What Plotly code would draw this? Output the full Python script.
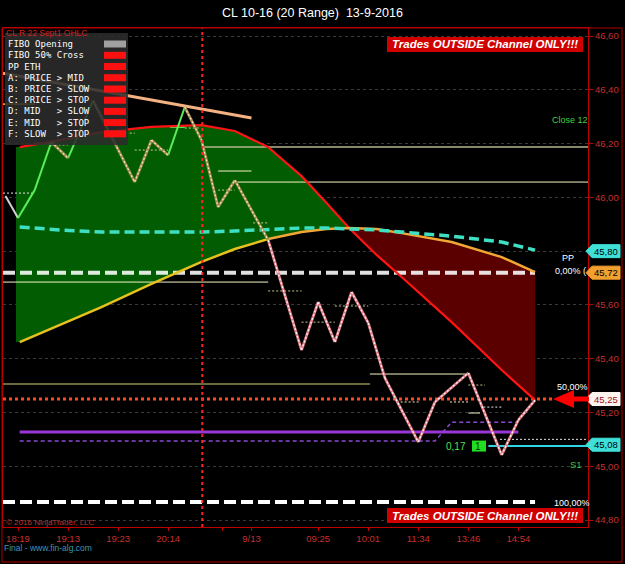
import plotly.graph_objects as go

# ---------------- data ----------------
title_text = "CL 10-16 (20 Range)  13-9-2016"
x_tick_bars = [2, 8, 14, 20, 26.5, 30, 38, 44, 50, 56, 62]
x_tick_labels = ["18:19", "19:13", "19:23", "20:14", "", "9/13", "09:25", "10:01", "11:34", "13:46", "14:54"]
y_tick_vals = [44.8, 45.0, 45.2, 45.4, 45.6, 45.8, 46.0, 46.2, 46.4, 46.6]
y_tick_labels = ["44,80", "45,00", "45,20", "45,40", "45,60", "45,80", "46,00", "46,20", "46,40", "46,60"]

# price line (range bar closes)
price_bars = [0.5, 2, 4, 6, 8, 11, 16, 18, 20, 22, 24, 26, 28, 32, 36, 38, 40, 42, 44, 46, 50, 52, 56, 60, 62, 64]
price_vals = [46.005, 45.923, 46.027, 46.206, 46.146, 46.36, 46.057, 46.213, 46.157, 46.336, 46.213, 45.964,
              46.064, 45.841, 45.432, 45.611, 45.462, 45.648, 45.533, 45.328, 45.090, 45.239, 45.347, 45.042,
              45.172, 45.246]
seg_state = ['w', 'g', 'g', 't', 'g', 't', 't', 't', 'g', 't', 't', 't', 't',
             'p', 'p', 'p', 'p', 'p', 'p', 'p', 'p', 'p', 'p', 'p', 'p']

# channel curves
curve_bars = [2.2, 7, 12, 18, 24, 28, 32, 36, 39, 41.7, 45, 48, 54, 60, 64]
fast_vals = [46.187, 46.213, 46.243, 46.262, 46.269, 46.247, 46.187, 46.079, 45.979, 45.886, 45.786, 45.704,
             45.536, 45.358, 45.246]
slow_vals = [45.462, 45.525, 45.592, 45.678, 45.760, 45.808, 45.845, 45.871, 45.882, 45.886, 45.882, 45.867,
             45.834, 45.778, 45.722]
stop_vals = [45.890, 45.879, 45.871, 45.871, 45.871, 45.875, 45.882, 45.886, 45.886, 45.882, 45.879, 45.871,
             45.856, 45.834, 45.804]
fill_left_bar = 1.76
cross_index = 9
slow_color_split = 6

# trend line (bar, price)
trend_bars = [0.2, 30.0]
trend_vals = [46.462, 46.295]

# fibo / pivot levels
pp_level = 45.72
fib50_level = 45.25
fib100_level = 44.867
level_end_bar = 64.0
fib50_end_bar = 66.4
session_break_bar = 24.1

# purple bands
purple_solid = (2.2, 62.0, 45.127)
purple_dash_bars = [2.2, 52.0, 54.0, 61.9]
purple_dash_vals = [45.094, 45.094, 45.164, 45.164]

# S1 / entry
s1_line = (58.4, 70.35, 45.075)
entry_bar, entry_price, entry_text, entry_count = 57.2, 45.075, "0,17", "1"

# short level segments: x0, x1, price, kind
lvl_x0 = [0.2, 5.9, 13.0, 16.0, 22.0, 26.0, 26.0, 30.2, 32.0, 36.0, 40.0, 47.4, 53.8, 56.0, 56.0, 57.8, 49.8,
          24.2, 28.3, 0.2, 0.2, 44.2, 59.8, 0.2, 4.0, 20.2]
lvl_x1 = [3.7, 8.0, 16.0, 20.0, 23.8, 30.0, 28.0, 32.0, 36.0, 40.0, 44.0, 50.2, 56.0, 58.0, 57.4, 60.0, 54.0,
          70.35, 70.35, 32.0, 44.2, 56.0, 70.35, 4.0, 5.9, 22.0]
lvl_p = [46.016, 46.195, 46.239, 46.176, 46.258, 46.098, 46.027, 45.905, 45.652, 45.536, 45.596, 45.239, 45.239,
         45.302, 45.198, 45.220, 45.127, 46.187, 46.057, 45.685, 45.306, 45.343, 45.100, 46.347, 46.200, 46.262]
lvl_kind = ['dw', 'dk', 'dk', 'dk', 'dk', 'cr', 'dk', 'dk', 'dk', 'dk', 'dk', 'dc', 'dc', 'dk', 'cr', 'dw', 'dw',
            'kh', 'cr', 'cr', 'ol', 'cr', 'dw', 'ye', 'gr', 'gr']

legend_rows = ["FIBO Opening", "FIBO 50% Cross", "PP ETH", "A: PRICE > MID", "B: PRICE > SLOW",
               "C: PRICE > STOP", "D: MID   > SLOW", "E: MID   > STOP", "F: SLOW  > STOP"]
legend_state = ["grey", "red", "red", "red", "red", "red", "red", "red", "red"]

price_tags = [(45.80, "45,80", "#3fe0d8", "#000000"), (45.72, "45,72", "#f2a030", "#000000"),
              (45.25, "45,25", "#fff4ee", "#a01010"), (45.08, "45,08", "#3fe0d8", "#000000")]

# ---------------- geometry helpers ----------------
X_MIN, X_MAX = 0.2, 70.35
Y_MIN, Y_MAX = 44.774, 46.63
L, R, T, B = 3, 588, 28, 527
W, H = R - L, B - T


def pxx(px):
    return (px - L) / W


def pxy(py):
    return (B - py) / H


def yp(p):
    return (p - Y_MIN) / (Y_MAX - Y_MIN)


fig = go.Figure()


def line(x, y, color, width=1, dash=None, opacity=1.0):
    fig.add_trace(go.Scatter(x=x, y=y, mode="lines", hoverinfo="skip",
                             line=dict(color=color, width=width, dash=dash), opacity=opacity))


# fills (green where fast > slow, dark red after crossing)
k = cross_index
fig.add_trace(go.Scatter(x=[fill_left_bar] + curve_bars[:k + 1], y=[slow_vals[0]] + slow_vals[:k + 1],
                         mode="lines", line=dict(width=0), hoverinfo="skip"))
fig.add_trace(go.Scatter(x=[fill_left_bar] + curve_bars[:k + 1], y=[fast_vals[0]] + fast_vals[:k + 1],
                         mode="lines", line=dict(width=0), fill="tonexty", fillcolor="#025c02", hoverinfo="skip"))
fig.add_trace(go.Scatter(x=curve_bars[k:], y=fast_vals[k:], mode="lines", line=dict(width=0), hoverinfo="skip"))
fig.add_trace(go.Scatter(x=curve_bars[k:], y=slow_vals[k:], mode="lines", line=dict(width=0),
                         fill="tonexty", fillcolor="#5a0000", hoverinfo="skip"))

# short / long level segments
kind_style = {
    'dw': ("#e8e8e8", 1, "2px,2px"), 'dk': ("#c8c890", 1, "2px,2px"), 'dc': ("#f0f0c0", 1, "2px,2px"),
    'cr': ("#f4f4c4", 1, None), 'kh': ("#b4b48c", 1.5, None), 'ol': ("#8c8c50", 1.5, None),
    'ye': ("#e6c030", 1.5, None), 'gr': ("#50f050", 2, None),
}
for kind, (col, wd, ds) in kind_style.items():
    xs, ys = [], []
    for a, b, p, kd in zip(lvl_x0, lvl_x1, lvl_p, lvl_kind):
        if kd == kind:
            xs += [a, b, None]
            ys += [p, p, None]
    if xs:
        line(xs, ys, col, wd, ds)

# fibo / PP levels
line([X_MIN, level_end_bar], [pp_level, pp_level], "#ffffff", 4, "12px,5px", 0.88)
line([X_MIN, level_end_bar], [fib100_level, fib100_level], "#ffffff", 4, "12px,5px")
line([X_MIN, fib50_end_bar], [fib50_level, fib50_level], "#ff4a20", 3, "3px,3px")

# purple bands
line([purple_solid[0], purple_solid[1]], [purple_solid[2], purple_solid[2]], "#9a36d6", 3)
line(purple_dash_bars, purple_dash_vals, "#8a48d0", 1.5, "4px,3px")

# S1 line
line([s1_line[0], s1_line[1]], [s1_line[2], s1_line[2]], "#30d4e0", 2)

# channel curves
line(curve_bars, fast_vals, "#ff1414", 2.2)
line(curve_bars[:slow_color_split + 1], slow_vals[:slow_color_split + 1], "#e6c21e", 2.5)
line(curve_bars[slow_color_split:], slow_vals[slow_color_split:], "#f2a634", 2.5)
line(curve_bars, stop_vals, "#3ee0c4", 3.5, "10px,5px")

# trend line
line(trend_bars, trend_vals, "#f4b282", 3)

# price line by state
state_style = {'w': ("#d0d0d0", None), 'g': ("#58ee58", None), 't': ("#a08a4c", "#f4e8c8"),
               'p': ("#e07c86", "#ffffff")}
for st, (base, over) in state_style.items():
    xs, ys = [], []
    for i, s in enumerate(seg_state):
        if s == st:
            xs += [price_bars[i], price_bars[i + 1], None]
            ys += [price_vals[i], price_vals[i + 1], None]
    if not xs:
        continue
    line(xs, ys, base, 2.8 if over else 2)
    if over:
        line(xs, ys, over, 1.2, "2px,2px")

shapes = []
annotations = []

# session break
shapes.append(dict(type="line", xref="x", yref="paper", x0=session_break_bar, x1=session_break_bar, y0=0, y1=1,
                   line=dict(color="#ff2424", width=2, dash="dot"), layer="above"))

# legend box
shapes.append(dict(type="rect", xref="paper", yref="paper", x0=pxx(5), x1=pxx(128), y0=pxy(145), y1=pxy(33),
                   fillcolor="rgba(44,44,44,0.88)", line=dict(width=0), layer="above"))
row_y = [44, 55.3, 66.5, 77.7, 89, 100.2, 111.4, 122.6, 133.8]
for txt_, st, ry in zip(legend_rows, legend_state, row_y):
    annotations.append(dict(xref="paper", yref="paper", x=pxx(6), y=pxy(ry), xanchor="left", yanchor="middle",
                            text=txt_.replace(" ", "\u00a0"), showarrow=False,
                            font=dict(family="DejaVu Sans Mono", size=9, color="#ffffff")))
    shapes.append(dict(type="rect", xref="paper", yref="paper", x0=pxx(104), x1=pxx(126),
                       y0=pxy(ry + 3.5), y1=pxy(ry - 3.5),
                       fillcolor="#a0a0a0" if st == "grey" else "#ff1010", line=dict(width=0), layer="above"))

# banners
for top, bot in [(37, 52), (508, 523)]:
    shapes.append(dict(type="rect", xref="paper", yref="paper", x0=pxx(387), x1=pxx(583), y0=pxy(bot), y1=pxy(top),
                       fillcolor="#d00000", line=dict(width=0), layer="above"))
    annotations.append(dict(xref="paper", yref="paper", x=pxx(485), y=pxy((top + bot) / 2), xanchor="center",
                            yanchor="middle", text="<b><i>Trades OUTSIDE Channel ONLY!!!</i></b>", showarrow=False,
                            font=dict(family="Liberation Sans", size=11.5, color="#ffffff")))

# price tags on the right axis
for p, t_, bg, fg in price_tags:
    yc = yp(p)
    h = 6.5 / H
    path = (f"M {pxx(586)},{yc} L {pxx(592)},{yc + h} L {pxx(620)},{yc + h} "
            f"L {pxx(620)},{yc - h} L {pxx(592)},{yc - h} Z")
    shapes.append(dict(type="path", xref="paper", yref="paper", path=path, fillcolor=bg,
                       line=dict(color=bg, width=1), layer="above"))
    annotations.append(dict(xref="paper", yref="paper", x=pxx(606), y=yc, xanchor="center", yanchor="middle",
                            text=t_, showarrow=False, font=dict(family="Liberation Sans", size=9.5, color=fg)))

# red arrow at 50% level
yc = yp(fib50_level)
ah = 9 / H
sh = 2.5 / H
arrow = (f"M {pxx(553)},{yc} L {pxx(574)},{yc + ah} L {pxx(574)},{yc + sh} L {pxx(589)},{yc + sh} "
         f"L {pxx(589)},{yc - sh} L {pxx(574)},{yc - sh} L {pxx(574)},{yc - ah} Z")
shapes.append(dict(type="path", xref="paper", yref="paper", path=arrow, fillcolor="#ff0000",
                   line=dict(width=0), layer="above"))

# entry box
shapes.append(dict(type="rect", xref="paper", yref="paper", x0=pxx(472), x1=pxx(486),
                   y0=yp(entry_price) - 5.5 / H, y1=yp(entry_price) + 5.5 / H,
                   fillcolor="#22dd22", line=dict(width=0), layer="above"))
annotations.append(dict(xref="x", yref="y", x=entry_bar, y=entry_price, text=entry_count, showarrow=False,
                        font=dict(family="Liberation Sans", size=10, color="#003300")))
annotations.append(dict(xref="x", yref="y", x=entry_bar - 2.7, y=entry_price, text=entry_text, showarrow=False,
                        font=dict(family="Liberation Sans", size=10, color="#50e050")))

# outer frame
shapes.append(dict(type="rect", xref="paper", yref="paper", x0=pxx(2), x1=pxx(622), y0=pxy(562), y1=1,
                   line=dict(color="#b00000", width=1), layer="above"))


def txt(px, py, text, color, size=9, anchor="center", family="Liberation Sans"):
    annotations.append(dict(xref="paper", yref="paper", x=pxx(px), y=pxy(py), xanchor=anchor, yanchor="middle",
                            text=text, showarrow=False, font=dict(family=family, size=size, color=color)))


txt(312, 13, title_text, "#ffffff", 12.5)
txt(4, 33, "CL R 22 Sept1 OHLC", "#d42020", 8.5, "left")
txt(568, 258, "PP", "#ffffff", 9)
txt(588, 271, "0,00% (", "#ffffff", 9, "right")
txt(572, 387, "50,00%", "#ffffff", 9)
txt(572, 503, "100,00%", "#ffffff", 9)
txt(576, 464, "S1", "#40c040", 9.5)
txt(590, 120, "Close 12", "#40d040", 9, "right")
txt(4, 522, "© 2016 NinjaTrader, LLC", "#c03030", 8, "left")
txt(2, 548, "Final - www.fin-alg.com", "#3c94b8", 8.5, "left")

fig.update_layout(
    width=625, height=564, margin=dict(l=L, r=625 - R, t=T, b=564 - B),
    paper_bgcolor="#000000", plot_bgcolor="#000000", showlegend=False,
    shapes=shapes, annotations=annotations,
    xaxis=dict(range=[X_MIN, X_MAX], tickvals=x_tick_bars, ticktext=x_tick_labels, showgrid=False,
               zeroline=False, showline=True, mirror=True, linecolor="#c00000", ticks="outside", ticklen=3,
               tickcolor="#c00000", tickfont=dict(family="Liberation Sans", size=9.5, color="#c43030")),
    yaxis=dict(range=[Y_MIN, Y_MAX], side="right", tickvals=y_tick_vals, ticktext=y_tick_labels,
               showgrid=True, gridcolor="#3a3a3a", griddash="dot", zeroline=False, showline=True, mirror=True,
               linecolor="#c00000", ticks="outside", ticklen=4, tickcolor="#c00000",
               tickfont=dict(family="Liberation Sans", size=9.5, color="#c43030")),
)

fig.write_html("out.html")
